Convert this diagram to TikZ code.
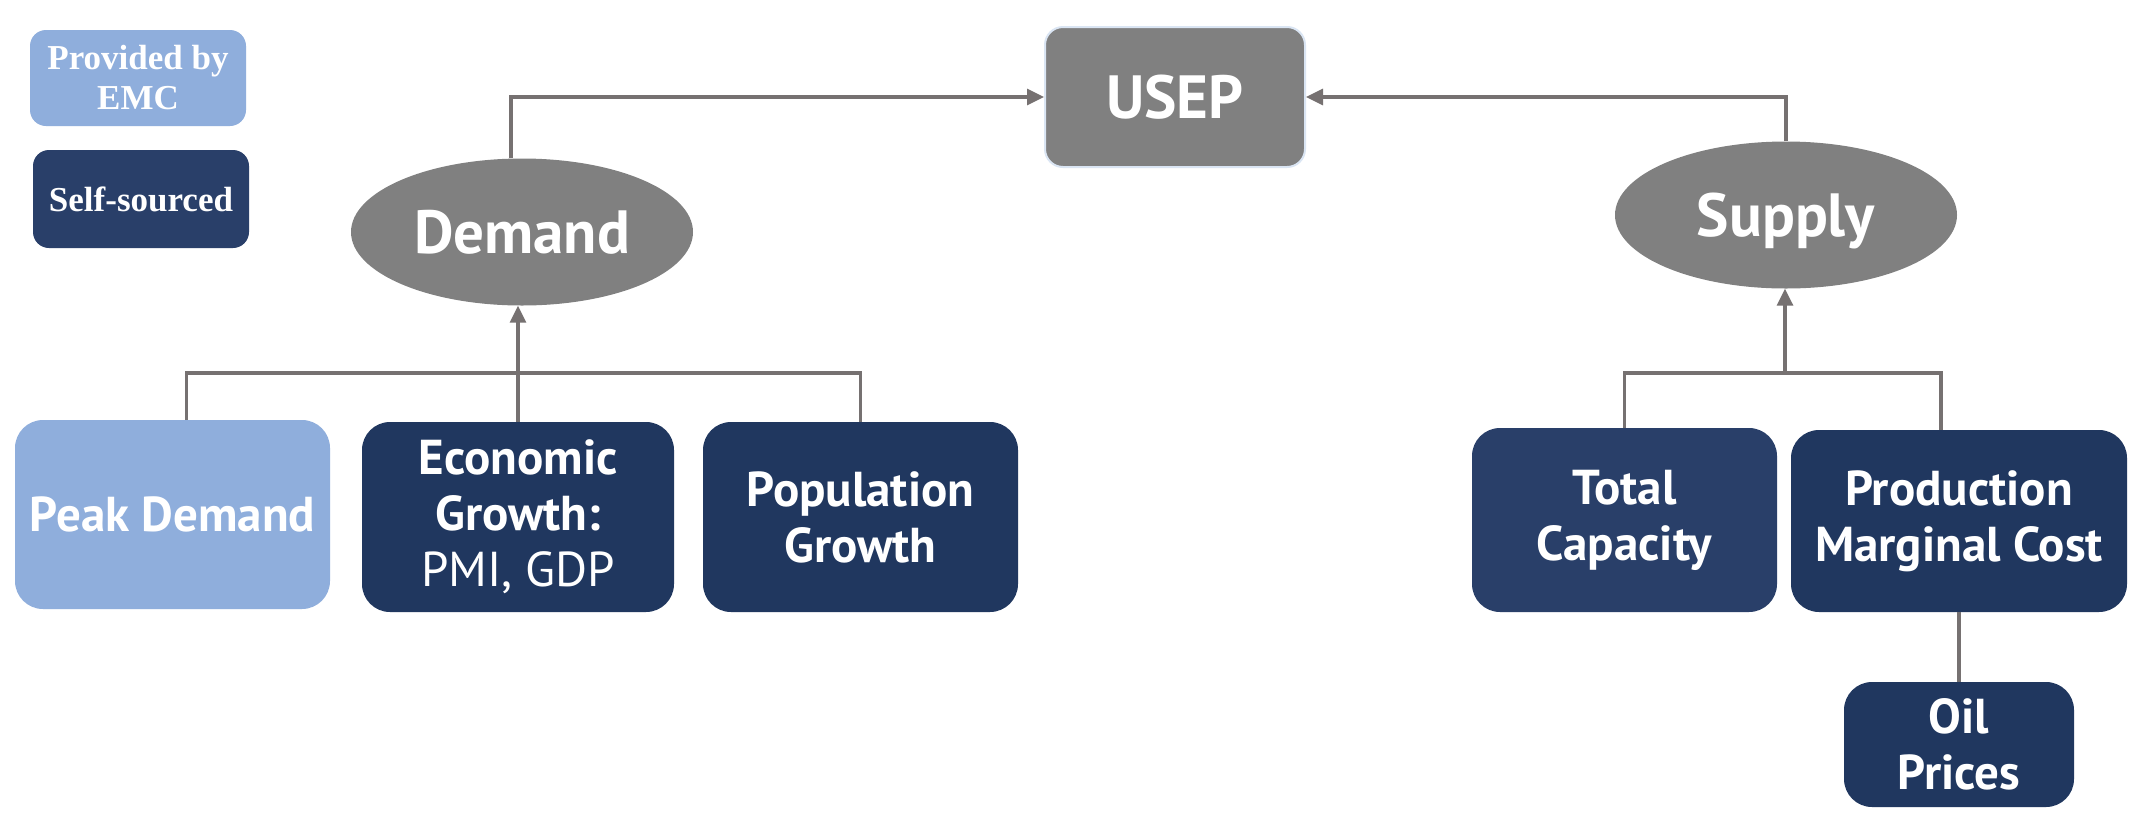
\documentclass[tikz,border=0pt]{standalone}
\usepackage{fontspec}
\setmainfont{PT Sans}
\newfontfamily\legendfont{Liberation Serif}
\usetikzlibrary{arrows.meta,shapes.geometric}
\definecolor{lightb}{HTML}{8FAEDC}
\definecolor{navy}{HTML}{20375F}
\definecolor{navyb}{HTML}{293F69}
\definecolor{grayfill}{HTML}{808080}
\definecolor{linec}{HTML}{767171}
\definecolor{usepborder}{HTML}{DAE5F3}
\tikzset{
  box/.style={rectangle, rounded corners=28pt, inner sep=0pt, align=center, text=white,
    font=\bfseries\fontsize{49}{56}\selectfont},
  legbox/.style={rectangle, rounded corners=16pt, inner sep=0pt, align=center, text=white,
    font=\legendfont\bfseries\fontsize{35}{40}\selectfont},
  oval/.style={ellipse, fill=grayfill, inner sep=0pt, minimum width=342pt, minimum height=147pt,
    text=white, text depth=0pt, text height=43pt, font=\bfseries\fontsize{61}{64}\selectfont},
  conn/.style={draw=linec, line width=3.2pt},
  arr/.style={conn, -{Triangle[length=17pt,width=16pt]}}
}
\begin{document}
\begin{tikzpicture}[x=1pt,y=-1pt]
\useasboundingbox[fill=white] (0,0) rectangle (2148,820);
% legend
\node[legbox, fill=lightb, minimum width=216pt, minimum height=96pt] (leg1) at (138,78) {Provided by\\EMC};
\node[legbox, fill=navyb, minimum width=216pt, minimum height=98pt] (leg2) at (141,199) {Self-sourced};
% top
\node[rectangle, rounded corners=18pt, fill=grayfill, draw=usepborder, line width=2pt,
  minimum width=260pt, minimum height=140pt, text=white, font=\bfseries\fontsize{61}{64}\selectfont]
  (usep) at (1175,97) {USEP};
\node[oval] (demand) at (522,232) {Demand};
\node[oval] (supply) at (1786,215) {Supply};
% demand factors
\node[box, fill=lightb, minimum width=315pt, minimum height=189pt] (peak) at (172.5,514.5) {Peak Demand};
\node[box, fill=navy, minimum width=312pt, minimum height=190pt] (econ) at (518,517)
  {Economic\\Growth:\\{\mdseries PMI, GDP}};
\node[box, fill=navy, minimum width=315pt, minimum height=190pt] (pop) at (860.5,517) {Population\\Growth};
% supply factors
\node[box, fill=navyb, minimum width=305pt, minimum height=184pt] (total) at (1624.5,520) {Total\\Capacity};
\node[box, fill=navy, minimum width=336pt, minimum height=182pt] (prod) at (1959,521) {Production\\Marginal Cost};
\node[box, fill=navy, minimum width=230pt, minimum height=125pt] (oil) at (1959,744.5) {Oil\\Prices};
% connectors
\draw[arr] ([xshift=-11pt]demand.north) |- (usep.west);
\draw[arr] (supply.north) |- (usep.east);
\coordinate (busd) at (518,373);
\coordinate (buss) at (1785,373);
\draw[conn] ([xshift=14pt]peak.north) |- (busd) -| (pop.north);
\draw[conn] (econ.north) -- (busd);
\draw[arr] (busd) -- (busd |- demand.south);
\draw[conn] (total.north) |- (buss) -| ([xshift=-18pt]prod.north);
\draw[arr] (buss) -- (buss |- supply.south);
\draw[conn] (prod.south) -- (oil.north);
\end{tikzpicture}
\end{document}
